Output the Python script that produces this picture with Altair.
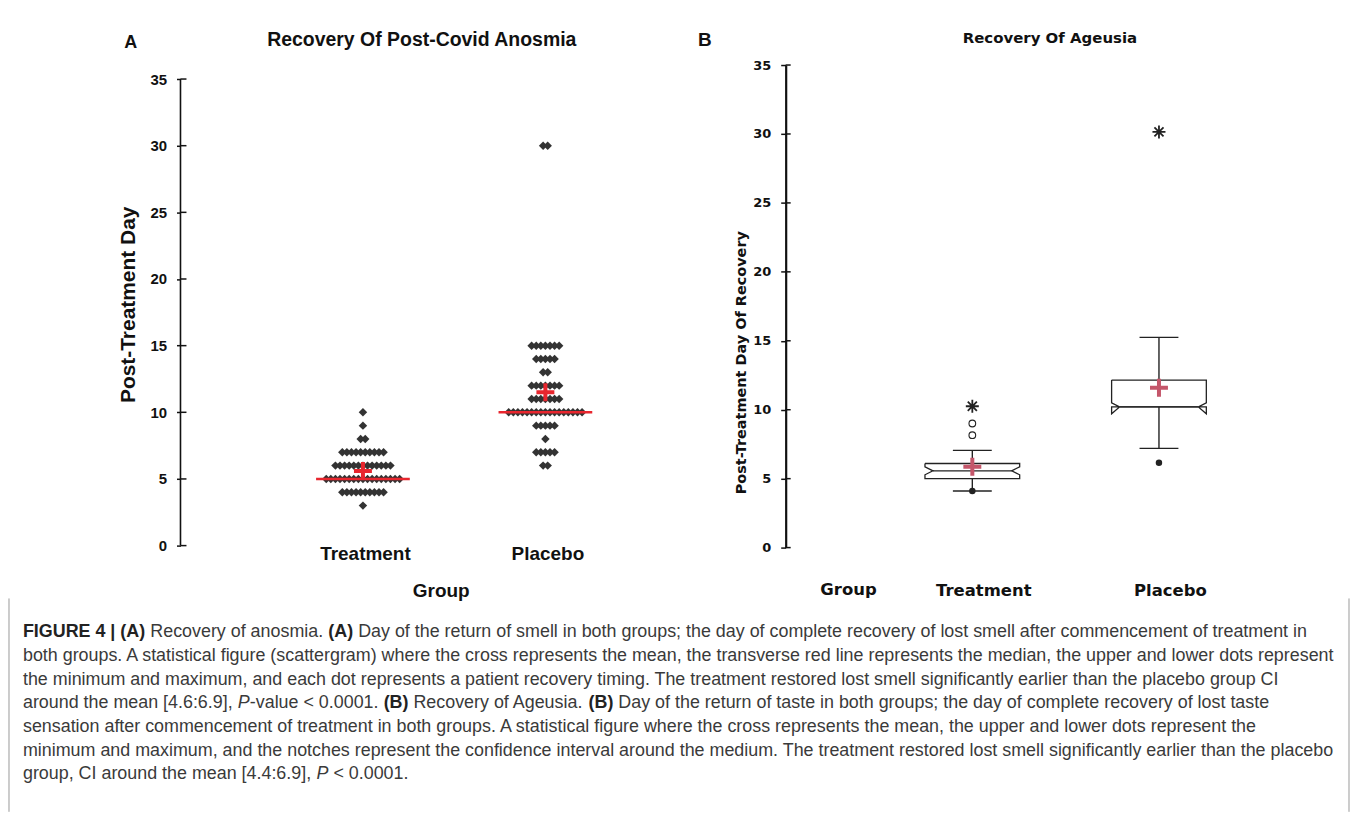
import altair as alt
import pandas as pd

# ---------------- data ----------------
groups = ["Treatment", "Placebo"]
group_pos = [1, 2]
y_ticks = [0, 5, 10, 15, 20, 25, 30, 35]

# Panel A: patients recovering smell on each post-treatment day
treat_days = [3, 4, 5, 6, 7, 8, 9, 10]
treat_counts = [1, 10, 17, 13, 10, 2, 1, 1]
plac_days = [6, 7, 8, 9, 10, 11, 12, 13, 14, 15, 30]
plac_counts = [2, 5, 1, 5, 17, 7, 7, 2, 5, 7, 2]
a_means = [5.6, 11.5]
a_medians = [5.0, 10.0]

# Panel B: notched box plots of recovery of taste
b_whisk_lo = [4.1, 7.2]
b_q1 = [5.0, 10.2]
b_notch_lo = [5.28, 9.7]
b_median = [5.57, 10.2]
b_notch_hi = [5.86, 10.5]
b_q3 = [6.1, 12.15]
b_whisk_hi = [7.05, 15.25]
b_means = [5.86, 11.6]
b_min_dots = [4.1, 6.15]
b_outlier_groups = ["Treatment", "Treatment"]
b_outliers = [8.15, 9.0]
b_extreme_groups = ["Treatment", "Placebo"]
b_extremes = [10.25, 30.15]

# ---------------- geometry ----------------
WA, HA = 522, 482          # panel A plot area
A_PX_X, A_PX_Y = 183.0, 13.37
WB, HB = 468, 484          # panel B plot area
XMAX_B = 2.5
B_PX_X = WB / XMAX_B
FONT_A = "Liberation Sans"
FONT_B = "DejaVu Sans"

one = pd.DataFrame({"k": [0]})
pos_of = dict(zip(groups, group_pos))


def a_x(px):   # pixel offset from panel A origin -> panel A x units
    return px / A_PX_X


def a_y(py):   # pixel offset from panel A top -> panel A y units
    return (HA - py) / A_PX_Y


# ---------------- panel A ----------------
dx = 4.6 / A_PX_X
rows = []
for g, days, counts in [("Treatment", treat_days, treat_counts), ("Placebo", plac_days, plac_counts)]:
    for d, n in zip(days, counts):
        for i in range(n):
            rows.append({"group": g, "x": pos_of[g] + (i - (n - 1) / 2) * dx, "y": d})
dotsA = pd.DataFrame(rows)

half_med = 47 / A_PX_X
medA = pd.DataFrame({"group": groups, "x": [p - half_med for p in group_pos],
                     "x2": [p + half_med for p in group_pos], "y": a_medians})
meanA = pd.DataFrame({"group": groups, "x": group_pos, "y": a_means})
ticksA = pd.DataFrame({"y": y_ticks})

xA = alt.X("x:Q", scale=alt.Scale(domain=[0, WA / A_PX_X], nice=False, zero=False),
           axis=alt.Axis(values=group_pos, labelExpr="datum.value == 1 ? 'Treatment' : 'Placebo'",
                         title="Group", domain=False, ticks=False, grid=False,
                         labelFont=FONT_A, labelFontSize=19, labelFontWeight="bold", labelColor="#111",
                         labelBaseline="middle", labelPadding=8, labelOffset=2,
                         titleFont=FONT_A, titleFontSize=19, titleFontWeight="bold", titleColor="#111",
                         titleBaseline="middle", titleY=45))
yA = alt.Y("y:Q", scale=alt.Scale(domain=[0, HA / A_PX_Y], nice=False, zero=True),
           axis=alt.Axis(values=y_ticks, title="Post-Treatment Day", domain=False, grid=False,
                         tickSize=4, tickWidth=1.5, tickColor="#111",
                         labelFont=FONT_A, labelFontSize=15, labelFontWeight="bold", labelColor="#111",
                         labelPadding=10,
                         titleFont=FONT_A, titleFontSize=21, titleFontWeight="bold", titleColor="#111",
                         titleBaseline="middle", titleX=-52, titleY=240))

plus_path = "M-1,0L1,0M0,-1L0,1"
star_path = "M-1,0L1,0M0,-1L0,1M-0.7,-0.7L0.7,0.7M-0.7,0.7L0.7,-0.7"

A_dots = alt.Chart(dotsA).mark_point(shape="diamond", filled=True, size=72, color="#333333",
                                     opacity=1).encode(x=xA, y=yA)
A_med = alt.Chart(medA).mark_rule(color="#e8262e", strokeWidth=2.5).encode(x=xA, x2="x2:Q", y=yA)
A_mean = alt.Chart(meanA).mark_point(shape=plus_path, filled=False, size=324, strokeWidth=4,
                                     color="#e8262e", opacity=1).encode(x=xA, y=yA)
A_axisline = alt.Chart(one).mark_rule(color="#111", strokeWidth=1.6).encode(
    x=alt.value(0), y=alt.datum(0), y2=alt.datum(35))
A_intick = alt.Chart(ticksA).mark_rule(color="#111", strokeWidth=1.5).encode(
    x=alt.value(0), x2=alt.value(6), y=yA)
A_letter = alt.Chart(one).mark_text(text="A", font=FONT_A, fontSize=18, fontWeight="bold",
                                    color="#111", align="center", baseline="middle").encode(
    x=alt.value(-50), y=alt.value(-22))
A_title = alt.Chart(one).mark_text(text="Recovery Of Post-Covid Anosmia", font=FONT_A, fontSize=19.5,
                                   fontWeight="bold", color="#111", align="center",
                                   baseline="middle").encode(x=alt.value(242), y=alt.value(-25))
A_anchor = alt.Chart(one).mark_rule(color="white", strokeWidth=1).encode(
    x=alt.value(0), x2=alt.value(1), y=alt.value(-55))

# ---------------- caption (drawn in panel A's frame, below the plots) ----------------
REG = dict(zip("abcdefghijklmnopqrstuvwxyz",
               [556, 556, 500, 556, 556, 278, 556, 556, 222, 222, 500, 222, 833, 556, 556, 556, 556,
                333, 500, 278, 556, 500, 722, 500, 500, 500]))
REG.update(zip("ABCDEFGHIJKLMNOPQRSTUVWXYZ",
               [667, 667, 722, 722, 667, 611, 778, 722, 278, 500, 667, 556, 833, 722, 778, 667, 778,
                722, 667, 611, 722, 667, 944, 667, 667, 611]))
REG.update({d: 556 for d in "0123456789"})
REG.update({" ": 278, ".": 278, ",": 278, ";": 278, ":": 278, "(": 333, ")": 333, "[": 278, "]": 278,
            "|": 260, "-": 333, "<": 584})
BOLD = dict(zip("abcdefghijklmnopqrstuvwxyz",
                [556, 611, 556, 611, 556, 333, 611, 611, 278, 278, 556, 278, 889, 611, 611, 611, 611,
                 389, 556, 333, 611, 556, 778, 556, 556, 500]))
BOLD.update(zip("ABCDEFGHIJKLMNOPQRSTUVWXYZ",
                [722, 722, 722, 722, 667, 611, 778, 722, 278, 556, 722, 611, 833, 722, 778, 667, 778,
                 722, 667, 611, 722, 667, 944, 667, 667, 611]))
BOLD.update({d: 556 for d in "0123456789"})
BOLD.update({" ": 278, "(": 333, ")": 333, "|": 280, ".": 278, ",": 278})

caption_lines = [
    [("FIGURE 4 | (A)", "b"), (" Recovery of anosmia. ", "n"), ("(A)", "b"),
     (" Day of the return of smell in both groups; the day of complete recovery of lost smell after commencement of treatment in", "n")],
    [("both groups. A statistical figure (scattergram) where the cross represents the mean, the transverse red line represents the median, the upper and lower dots represent", "n")],
    [("the minimum and maximum, and each dot represents a patient recovery timing. The treatment restored lost smell significantly earlier than the placebo group CI", "n")],
    [("around the mean [4.6:6.9], ", "n"), ("P", "i"), ("-value < 0.0001. ", "n"), ("(B)", "b"),
     (" Recovery of Ageusia. ", "n"), ("(B)", "b"),
     (" Day of the return of taste in both groups; the day of complete recovery of lost taste", "n")],
    [("sensation after commencement of treatment in both groups. A statistical figure where the cross represents the mean, the upper and lower dots represent the", "n")],
    [("minimum and maximum, and the notches represent the confidence interval around the medium. The treatment restored lost smell significantly earlier than the placebo", "n")],
    [("group, CI around the mean [4.4:6.9], ", "n"), ("P", "i"), (" < 0.0001.", "n")],
]


def seg_units(s, style):
    table = BOLD if style == "b" else REG
    return sum(table.get(ch, 556) for ch in s)


line_units = [sum(seg_units(s, st) for s, st in line) for line in caption_lines]
cap_fs = 1318.0 * 1000.0 / max(line_units[1], line_units[5])

CAP_X0 = 22 - 180      # pixel offsets relative to panel A origin (page x 180, y 63)
CAP_Y0 = 632 - 63
CAP_DY = 23.75
seg_rows = []
for li, line in enumerate(caption_lines):
    cx = CAP_X0
    for s, st in line:
        lead = len(s) - len(s.lstrip(" "))
        txt = s.strip(" ")
        seg_rows.append({"x": a_x(cx + lead * 278 * cap_fs / 1000.0), "y": a_y(CAP_Y0 + li * CAP_DY),
                         "txt": txt, "style": st})
        cx += seg_units(s, st) * cap_fs / 1000.0
segs = pd.DataFrame(seg_rows)
borders = pd.DataFrame({"x": [a_x(-172), a_x(1172)], "y": [a_y(598 - 63)] * 2,
                        "y2": [a_y(812 - 63)] * 2})

C_norm = alt.Chart(segs).transform_filter("datum.style == 'n'").mark_text(
    font=FONT_A, fontSize=cap_fs, color="#3a3a3a", align="left", baseline="middle").encode(
    x=xA, y=yA, text="txt:N")
C_bold = alt.Chart(segs).transform_filter("datum.style == 'b'").mark_text(
    font=FONT_A, fontSize=cap_fs, fontWeight="bold", color="#222", align="left",
    baseline="middle").encode(x=xA, y=yA, text="txt:N")
C_ital = alt.Chart(segs).transform_filter("datum.style == 'i'").mark_text(
    font=FONT_A, fontSize=cap_fs, fontStyle="italic", color="#3a3a3a", align="left",
    baseline="middle").encode(x=xA, y=yA, text="txt:N")
C_border = alt.Chart(borders).mark_rule(color="#9a9a9a", strokeWidth=1).encode(
    x=xA, y=yA, y2="y2:Q")

panelA = alt.layer(A_anchor, A_axisline, A_intick, A_dots, A_med, A_mean, A_letter, A_title,
                   C_border, C_norm, C_bold, C_ital).properties(width=WA, height=HA)

# ---------------- panel B ----------------
w = 47.5 / B_PX_X
ins = 8 / B_PX_X
capw = 19.5 / B_PX_X
path_rows = []
for i, g in enumerate(groups):
    c = group_pos[i]
    pts = [(c - w, b_q3[i]), (c + w, b_q3[i]), (c + w, b_notch_hi[i]), (c + w - ins, b_median[i]),
           (c + w, b_notch_lo[i]), (c + w, b_q1[i]), (c - w, b_q1[i]), (c - w, b_notch_lo[i]),
           (c - w + ins, b_median[i]), (c - w, b_notch_hi[i]), (c - w, b_q3[i])]
    for k, (px, py) in enumerate(pts):
        path_rows.append({"group": g, "order": k, "x": px, "y": py})
boxB = pd.DataFrame(path_rows)
medB = pd.DataFrame({"group": groups, "x": [p - w + ins for p in group_pos],
                     "x2": [p + w - ins for p in group_pos], "y": b_median})
whiskB = pd.DataFrame({"group": groups * 2, "x": group_pos * 2,
                       "y": b_q3 + b_q1, "y2": b_whisk_hi + b_whisk_lo})
capsB = pd.DataFrame({"group": groups * 2, "x": [p - capw for p in group_pos] * 2,
                      "x2": [p + capw for p in group_pos] * 2, "y": b_whisk_hi + b_whisk_lo})
minB = pd.DataFrame({"group": groups, "x": group_pos, "y": b_min_dots})
outB = pd.DataFrame({"group": b_outlier_groups, "x": [pos_of[g] for g in b_outlier_groups], "y": b_outliers})
extB = pd.DataFrame({"group": b_extreme_groups, "x": [pos_of[g] for g in b_extreme_groups], "y": b_extremes})
meanB = pd.DataFrame({"group": groups, "x": group_pos, "y": b_means})

xB = alt.X("x:Q", scale=alt.Scale(domain=[0, XMAX_B], nice=False, zero=False),
           axis=alt.Axis(values=group_pos, labelExpr="datum.value == 1 ? 'Treatment' : 'Placebo'",
                         title=None, domain=False, ticks=False, grid=False,
                         labelFont=FONT_B, labelFontSize=16.5, labelFontWeight="bold", labelColor="#111",
                         labelBaseline="middle", labelPadding=43, labelOffset=11))
yB = alt.Y("y:Q", scale=alt.Scale(domain=[0, 35], nice=False, zero=True),
           axis=alt.Axis(values=y_ticks, title="Post-Treatment Day Of Recovery", grid=False,
                         domain=True, domainColor="#111", domainWidth=2.2,
                         tickSize=5, tickWidth=1.5, tickColor="#111",
                         labelFont=FONT_B, labelFontSize=13, labelFontWeight="bold", labelColor="#111",
                         labelPadding=10,
                         titleFont=FONT_B, titleFontSize=14.5, titleFontWeight="bold", titleColor="#111",
                         titleBaseline="middle", titleX=-44, titleY=298))

B_box = alt.Chart(boxB).mark_line(color="#222", strokeWidth=1.3).encode(
    x=xB, y=yB, detail="group:N", order="order:Q")
B_med = alt.Chart(medB).mark_rule(color="#222", strokeWidth=1.2).encode(x=xB, x2="x2:Q", y=yB)
B_whisk = alt.Chart(whiskB).mark_rule(color="#222", strokeWidth=1.4).encode(x=xB, y=yB, y2="y2:Q")
B_caps = alt.Chart(capsB).mark_rule(color="#222", strokeWidth=1.4).encode(x=xB, x2="x2:Q", y=yB)
B_min = alt.Chart(minB).mark_point(shape="circle", filled=True, size=42, color="#222",
                                   opacity=1).encode(x=xB, y=yB)
B_out = alt.Chart(outB).mark_point(shape="circle", filled=False, size=45, strokeWidth=1.1,
                                   color="#222", opacity=1).encode(x=xB, y=yB)
B_ext = alt.Chart(extB).mark_point(shape=star_path, filled=False, size=170, strokeWidth=1.8,
                                   color="#222", opacity=1).encode(x=xB, y=yB)
B_mean = alt.Chart(meanB).mark_point(shape=plus_path, filled=False, size=324, strokeWidth=4,
                                     color="#c4566a", opacity=1).encode(x=xB, y=yB)
B_intick = alt.Chart(ticksA).mark_rule(color="#111", strokeWidth=1.5).encode(
    x=alt.value(0), x2=alt.value(5), y=yB)
B_letter = alt.Chart(one).mark_text(text="B", font=FONT_A, fontSize=19, fontWeight="bold",
                                    color="#111", align="center", baseline="middle").encode(
    x=alt.value(-81), y=alt.value(-25))
B_title = alt.Chart(one).mark_text(text="Recovery Of Ageusia", font=FONT_B, fontSize=15,
                                   fontWeight="bold", color="#111", align="center",
                                   baseline="middle").encode(x=alt.value(265), y=alt.value(-27))
B_group = alt.Chart(one).mark_text(text="Group", font=FONT_B, fontSize=16.5, fontWeight="bold",
                                   color="#111", align="center", baseline="middle").encode(
    x=alt.value(63), y=alt.value(527))

panelB = alt.layer(B_intick, B_whisk, B_caps, B_box, B_med, B_min, B_out, B_ext, B_mean,
                   B_letter, B_title, B_group).properties(width=WB, height=HB)

chart = alt.hconcat(panelA, panelB, spacing=85, bounds="flush").properties(
    padding=0, background="white").configure_view(strokeWidth=0, stroke="transparent")

chart.save("out.html", embed_options={"renderer": "svg", "actions": False})
